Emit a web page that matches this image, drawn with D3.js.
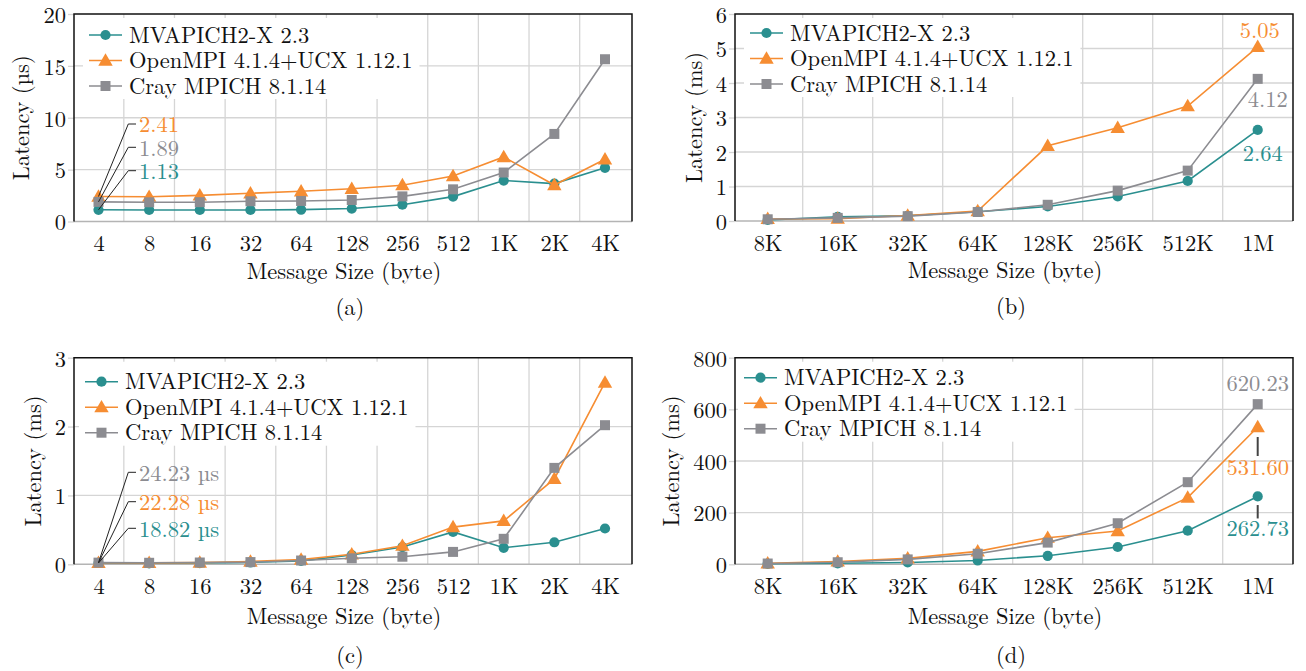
<!DOCTYPE html>
<html>
<head>
<meta charset="utf-8">
<script src="https://cdn.jsdelivr.net/npm/d3@7/dist/d3.min.js"></script>
<style>
  body { margin: 0; background: #fff; }
  text { font-family: 'Latin Modern Roman', 'Liberation Serif', serif; }
</style>
</head>
<body>
<svg id="chart"></svg>
<script>
const seriesNames = ['MVAPICH2-X 2.3', 'OpenMPI 4.1.4+UCX 1.12.1', 'Cray MPICH 8.1.14'];

const smallSizes = ['4', '8', '16', '32', '64', '128', '256', '512', '1K', '2K', '4K'];
const largeSizes = ['8K', '16K', '32K', '64K', '128K', '256K', '512K', '1M'];

// (a) small messages, µs
const aMvapich = [1.13, 1.11, 1.11, 1.11, 1.14, 1.25, 1.62, 2.40, 3.95, 3.65, 5.17];
const aOpenmpi = [2.41, 2.39, 2.52, 2.72, 2.91, 3.15, 3.50, 4.38, 6.22, 3.52, 6.00];
const aCray = [1.89, 1.85, 1.86, 1.95, 1.98, 2.07, 2.42, 3.10, 4.72, 8.44, 15.64];
const aTicks = [0, 5, 10, 15, 20];

// (b) large messages, ms
const bMvapich = [0.03, 0.12, 0.15, 0.27, 0.42, 0.71, 1.16, 2.64];
const bOpenmpi = [0.06, 0.07, 0.16, 0.29, 2.18, 2.70, 3.33, 5.05];
const bCray = [0.05, 0.09, 0.14, 0.26, 0.47, 0.88, 1.46, 4.12];
const bTicks = [0, 1, 2, 3, 4, 5, 6];

// (c) small messages, ms
const cMvapich = [0.01882, 0.015, 0.018, 0.028, 0.05, 0.135, 0.25, 0.47, 0.24, 0.32, 0.52];
const cOpenmpi = [0.02228, 0.02, 0.025, 0.04, 0.07, 0.145, 0.27, 0.54, 0.63, 1.24, 2.64];
const cCray = [0.02423, 0.022, 0.026, 0.032, 0.055, 0.087, 0.11, 0.18, 0.37, 1.40, 2.02];
const cTicks = [0, 1, 2, 3];

// (d) large messages, ms
const dMvapich = [2, 4, 7, 15, 33, 67, 130, 262.73];
const dOpenmpi = [4, 11, 23, 50, 103, 129, 258, 531.60];
const dCray = [3, 8, 19, 41, 84, 159, 318, 620.23];
const dTicks = [0, 200, 400, 600, 800];

const colors = ['#2a8f8f', '#f68d32', '#8c8c91'];
const symbols = [d3.symbolCircle, d3.symbolTriangle, d3.symbolSquare];
const symbolSizes = [82, 90, 100];
const gridColor = '#d5d5d5';

const svg = d3.select('#chart')
  .attr('width', 1306)
  .attr('height', 671);

const panels = [
  {
    id: '(a)', cats: smallSizes, series: [aMvapich, aOpenmpi, aCray], ticks: aTicks,
    yLabel: 'Latency (µs)', left: 74, right: 632, top: 14, bottom: 221.5,
    xRange: [98.5, 605], legendDy: 21, legendDx: 0, xlabDy: 57, capDy: 93,
    note: { kind: 'leader', scale: 1, suffix: '', items: [[1, 111], [2, 134.3], [0, 157.7]] },
  },
  {
    id: '(b)', cats: largeSizes, series: [bMvapich, bOpenmpi, bCray], ticks: bTicks,
    yLabel: 'Latency (ms)', left: 735, right: 1293, top: 14, bottom: 221,
    xRange: [767.7, 1257.7], legendDy: 19, legendDx: 0, xlabDy: 57, capDy: 93,
    note: { kind: 'side', items: [[1, 2, -16], [2, 10, 21], [0, 5, 24]] },
  },
  {
    id: '(c)', cats: smallSizes, series: [cMvapich, cOpenmpi, cCray], ticks: cTicks,
    yLabel: 'Latency (ms)', left: 74, right: 632, top: 357.7, bottom: 564.3,
    xRange: [98.5, 605], legendDy: 24, legendDx: -4, xlabDy: 59.5, capDy: 99,
    note: { kind: 'leader', scale: 1000, suffix: ' µs', items: [[2, 115.6], [1, 145], [0, 171.6]] },
  },
  {
    id: '(d)', cats: largeSizes, series: [dMvapich, dOpenmpi, dCray], ticks: dTicks,
    yLabel: 'Latency (ms)', left: 735, right: 1293, top: 357.7, bottom: 564.3,
    xRange: [767.7, 1257.7], legendDy: 20, legendDx: -6, xlabDy: 59.5, capDy: 99,
    note: { kind: 'tick', items: [[2, -20, null], [1, 41, [10, 29]], [0, 32, [8.6, 22]]] },
  },
];

const fmt = d3.format('.2f');
const fontSize = 22.5;

function drawPanel(p) {
  const g = svg.append('g');
  const x = d3.scalePoint().domain(p.cats).range(p.xRange);
  const y = d3.scaleLinear().domain([0, d3.max(p.ticks)]).range([p.bottom, p.top]);
  const step = x.step();
  const last = p.cats[p.cats.length - 1];

  // grid
  g.append('g').selectAll('line')
    .data(p.cats.slice(0, -1))
    .join('line')
    .attr('x1', d => x(d) + step / 2)
    .attr('x2', d => x(d) + step / 2)
    .attr('y1', p.top)
    .attr('y2', p.bottom)
    .attr('stroke', gridColor)
    .attr('stroke-width', 1.3);
  g.append('g').selectAll('line')
    .data(p.ticks.slice(1, -1))
    .join('line')
    .attr('x1', p.left)
    .attr('x2', p.right)
    .attr('y1', d => y(d))
    .attr('y2', d => y(d))
    .attr('stroke', gridColor)
    .attr('stroke-width', 1.3);

  // y-axis
  const yAxis = g.append('g')
    .attr('transform', `translate(${p.left},0)`)
    .call(d3.axisLeft(y).tickValues(p.ticks).tickFormat(d3.format('d')).tickSize(6).tickPadding(2));
  yAxis.select('.domain').remove();
  yAxis.selectAll('line').attr('stroke', gridColor).attr('stroke-width', 1.3);
  yAxis.selectAll('text')
    .attr('font-size', fontSize)
    .attr('fill', '#111')
    .attr('dy', '0.37em');

  // x-axis
  const xAxis = g.append('g')
    .attr('transform', `translate(0,${p.bottom})`)
    .call(d3.axisBottom(x).tickSize(0).tickPadding(14));
  xAxis.select('.domain').remove();
  xAxis.selectAll('text')
    .attr('font-size', fontSize)
    .attr('fill', '#111');

  // frame
  g.append('line')
    .attr('x1', p.left).attr('x2', p.right)
    .attr('y1', p.bottom).attr('y2', p.bottom)
    .attr('stroke', '#b4b4b4').attr('stroke-width', 1.6);
  g.append('path')
    .attr('d', `M${p.left},${p.bottom}V${p.top}H${p.right}V${p.bottom}`)
    .attr('fill', 'none')
    .attr('stroke', '#111')
    .attr('stroke-width', 1.5);

  // legend
  const lx = p.left + p.legendDx;
  const ly = p.top + p.legendDy;
  const legend = g.append('g');
  const box = legend.append('rect').attr('fill', '#fff');
  let maxW = 0;
  seriesNames.forEach((name, i) => {
    const yy = ly + i * 25.5;
    legend.append('line')
      .attr('x1', lx + 15).attr('x2', lx + 48)
      .attr('y1', yy).attr('y2', yy)
      .attr('stroke', colors[i]).attr('stroke-width', 1.6);
    legend.append('path')
      .attr('d', d3.symbol(symbols[i], symbolSizes[i])())
      .attr('transform', `translate(${lx + 31.5},${yy + (i === 1 ? 1 : 0)})`)
      .attr('fill', colors[i]);
    const t = legend.append('text')
      .attr('x', lx + 55)
      .attr('y', yy + 7.7)
      .attr('font-size', fontSize)
      .attr('fill', '#111')
      .text(name);
    maxW = Math.max(maxW, t.node().getComputedTextLength());
  });
  box.attr('x', lx + 9).attr('y', p.top + 4)
    .attr('width', 55 + maxW + 7 - 9)
    .attr('height', ly - p.top + 2 * 25.5 + 13 - 4);

  // series
  const line = d3.line().x((d, i) => x(p.cats[i])).y(d => y(d));
  p.series.forEach((vals, s) => {
    g.append('path')
      .datum(vals)
      .attr('d', line)
      .attr('fill', 'none')
      .attr('stroke', colors[s])
      .attr('stroke-width', 1.6);
    g.append('g').selectAll('path')
      .data(vals)
      .join('path')
      .attr('d', d3.symbol(symbols[s], symbolSizes[s])())
      .attr('transform', (d, i) => `translate(${x(p.cats[i])},${y(d) + (s === 1 ? 1 : 0)})`)
      .attr('fill', colors[s]);
  });

  // annotations
  const n = p.note;
  if (n.kind === 'leader') {
    n.items.forEach(([s, cy]) => {
      const v = p.series[s][0];
      const yc = p.top + cy;
      g.append('path')
        .attr('d', `M${x(p.cats[0])},${y(v)}L${p.left + 54.3},${yc - 1}H${p.left + 62}`)
        .attr('fill', 'none').attr('stroke', '#222').attr('stroke-width', 1);
      g.append('text')
        .attr('x', p.left + 65)
        .attr('y', yc + 7.3)
        .attr('font-size', fontSize)
        .attr('fill', colors[s])
        .text(fmt(v * n.scale) + n.suffix);
    });
  } else if (n.kind === 'side') {
    n.items.forEach(([s, dx, dy]) => {
      const v = p.series[s][p.cats.length - 1];
      g.append('text')
        .attr('x', x(last) + dx)
        .attr('y', y(v) + dy + 7.3)
        .attr('text-anchor', 'middle')
        .attr('font-size', fontSize)
        .attr('fill', colors[s])
        .text(fmt(v));
    });
  } else {
    n.items.forEach(([s, dy, tk]) => {
      const v = p.series[s][p.cats.length - 1];
      if (tk) {
        g.append('line')
          .attr('x1', x(last)).attr('x2', x(last))
          .attr('y1', y(v) + tk[0]).attr('y2', y(v) + tk[1])
          .attr('stroke', '#444').attr('stroke-width', 2);
      }
      g.append('text')
        .attr('x', x(last))
        .attr('y', y(v) + dy + 7.3)
        .attr('text-anchor', 'middle')
        .attr('font-size', fontSize)
        .attr('fill', colors[s])
        .text(fmt(v));
    });
  }

  // axis titles and caption
  const cx = (p.left + p.right) / 2;
  const bb = yAxis.node().getBBox();
  g.append('text')
    .attr('transform', `translate(${p.left + bb.x - 23},${(p.top + p.bottom) / 2}) rotate(-90)`)
    .attr('text-anchor', 'middle')
    .attr('dominant-baseline', 'central')
    .attr('font-size', fontSize)
    .attr('fill', '#111')
    .text(p.yLabel);
  g.append('text')
    .attr('x', cx - 9)
    .attr('y', p.bottom + p.xlabDy)
    .attr('text-anchor', 'middle')
    .attr('font-size', fontSize)
    .attr('fill', '#111')
    .text('Message Size (byte)');
  g.append('text')
    .attr('x', cx - 3)
    .attr('y', p.bottom + p.capDy)
    .attr('text-anchor', 'middle')
    .attr('font-size', fontSize)
    .attr('fill', '#111')
    .text(p.id);
}

panels.forEach(drawPanel);
</script>
</body>
</html>
